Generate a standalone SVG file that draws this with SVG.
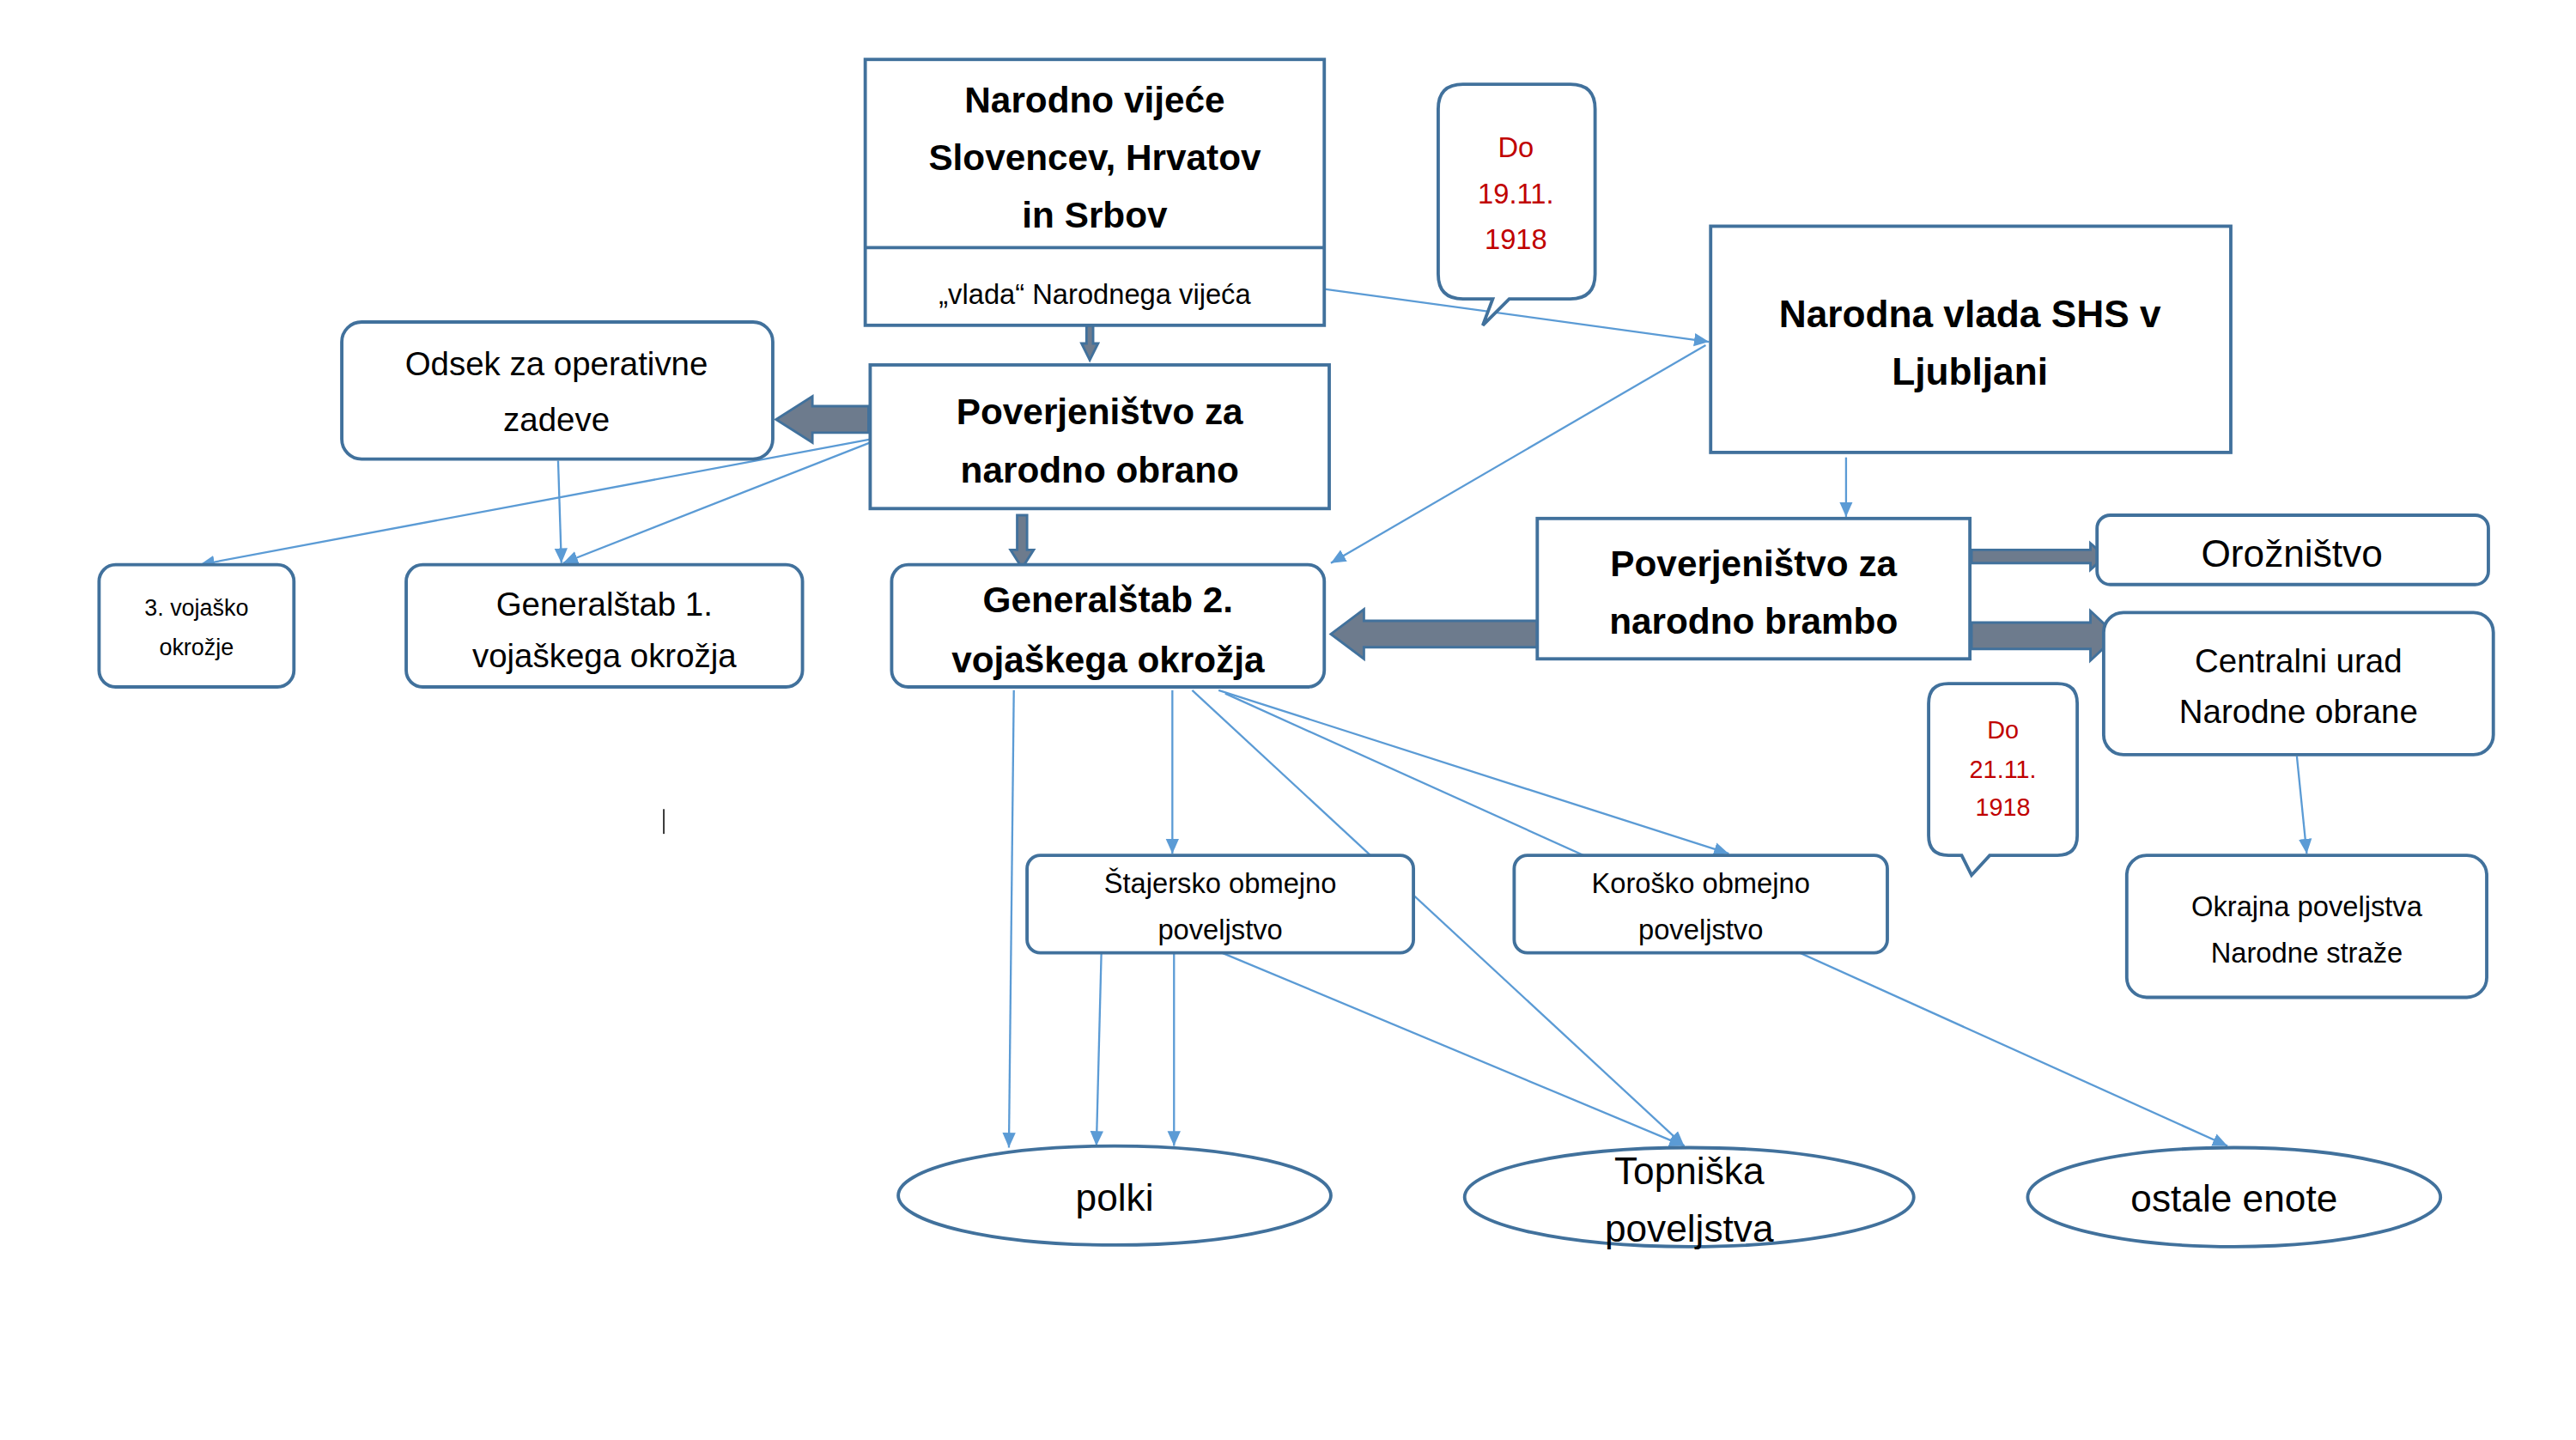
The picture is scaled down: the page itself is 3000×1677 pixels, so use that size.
<svg xmlns="http://www.w3.org/2000/svg" width="3000" height="1677" viewBox="0 0 3000 1677">
<style>
.box{fill:#fff;stroke:#41719c;stroke-width:2}
.t{font-family:"Liberation Sans",Arial,sans-serif;text-anchor:middle;fill:#000}
.b{font-weight:bold}
.red{fill:#c00000}
.c{stroke:#5b9bd5;stroke-width:1.2;fill:none;marker-end:url(#ah)}
.thick{fill:#6d7b8d;stroke:#41719c;stroke-width:1.5}
</style>
<defs>
<marker id="ah" markerWidth="10" markerHeight="10" refX="9" refY="5" orient="auto" markerUnits="userSpaceOnUse">
<path d="M0,1 L9,5 L0,9 Z" fill="#5b9bd5"/>
</marker>
</defs>
<rect width="3000" height="1677" fill="#fff"/>
<g transform="scale(1.923)">
<g id="connectors">
<path class="c" d="M802,175 L1035,207"/>
<path class="c" d="M1033,209 L806,341"/>
<path class="c" d="M527,266 L121,342"/>
<path class="c" d="M527,268 L341,341"/>
<path class="c" d="M338,279 L340,341"/>
<path class="c" d="M614,418 L611,695"/>
<path class="c" d="M710,418 L710,517"/>
<path class="c" d="M722,418 L1020,694"/>
<path class="c" d="M738,418 L1047,517"/>
<path class="c" d="M742,420 L1349,694"/>
<path class="c" d="M740,577 L1020,694"/>
<path class="c" d="M667,577 L664,694"/>
<path class="c" d="M711,577 L711,694"/>
<path class="c" d="M1391,458 L1397,517"/>
<path class="c" d="M1118,277 L1118,313"/>
<path d="M658,184 L662,184 L662,208 L665,208 L660,218 L655,208 L658,208 Z" class="thick"/>
<path d="M616,312 L622,312 L622,333 L626,333 L619,344 L612,333 L616,333 Z" class="thick"/>
<path d="M526,246 L492,246 L492,240 L470,254 L492,268 L492,262 L526,262 Z" class="thick"/>
<path d="M931,376 L826,376 L826,369 L806,384 L826,399 L826,392 L931,392 Z" class="thick"/>
<path d="M1194,333 L1266,333 L1266,329 L1275,337 L1266,345 L1266,341 L1194,341 Z" class="thick"/>
<path d="M1194,377 L1266,377 L1266,370 L1282,385 L1266,400 L1266,393 L1194,393 Z" class="thick"/>
<line x1="402" y1="490" x2="402" y2="505" stroke="#333" stroke-width="1"/>
</g>
<g id="narodno-vijece">
<rect class="box" x="524" y="36" width="278" height="161"/>
<line x1="524" y1="150" x2="802" y2="150" stroke="#41719c" stroke-width="2"/>
<text class="t b" font-size="22" x="663" y="68">Narodno vijeće</text>
<text class="t b" font-size="22" x="663" y="103">Slovencev, Hrvatov</text>
<text class="t b" font-size="22" x="663" y="138">in Srbov</text>
<text class="t" font-size="17" x="663" y="184">„vlada“ Narodnega vijeća</text>
</g>
<g id="callout1">
<path class="box" d="M886,51 L951,51 Q966,51 966,66 L966,166 Q966,181 951,181 L914,181 L898,197 L904,181 L886,181 Q871,181 871,166 L871,66 Q871,51 886,51 Z"/>
<text class="t red" font-size="17" x="918" y="95">Do</text>
<text class="t red" font-size="17" x="918" y="123">19.11.</text>
<text class="t red" font-size="17" x="918" y="151">1918</text>
</g>
<g id="narodna-vlada">
<rect class="box" x="1036" y="137" width="315" height="137"/>
<text class="t b" font-size="23" x="1193" y="198">Narodna vlada SHS v</text>
<text class="t b" font-size="23" x="1193" y="233">Ljubljani</text>
</g>
<g id="odsek">
<rect class="box" x="207" y="195" width="261" height="83" rx="12"/>
<text class="t" font-size="20" x="337" y="227">Odsek za operativne</text>
<text class="t" font-size="20" x="337" y="261">zadeve</text>
</g>
<g id="pov-obrano">
<rect class="box" x="527" y="221" width="278" height="87"/>
<text class="t b" font-size="22" x="666" y="257">Poverjeništvo za</text>
<text class="t b" font-size="22" x="666" y="292">narodno obrano</text>
</g>
<g id="vojasko3">
<rect class="box" x="60" y="342" width="118" height="74" rx="10"/>
<text class="t" font-size="14" x="119" y="373">3. vojaško</text>
<text class="t" font-size="14" x="119" y="397">okrožje</text>
</g>
<g id="gen1">
<rect class="box" x="246" y="342" width="240" height="74" rx="10"/>
<text class="t" font-size="20" x="366" y="373">Generalštab 1.</text>
<text class="t" font-size="20" x="366" y="404">vojaškega okrožja</text>
</g>
<g id="gen2">
<rect class="box" x="540" y="342" width="262" height="74" rx="10"/>
<text class="t b" font-size="22" x="671" y="371">Generalštab 2.</text>
<text class="t b" font-size="22" x="671" y="407">vojaškega okrožja</text>
</g>
<g id="pov-brambo">
<rect class="box" x="931" y="314" width="262" height="85"/>
<text class="t b" font-size="22" x="1062" y="349">Poverjeništvo za</text>
<text class="t b" font-size="22" x="1062" y="384">narodno brambo</text>
</g>
<g id="oroznistvo">
<rect class="box" x="1270" y="312" width="237" height="42" rx="8"/>
<text class="t" font-size="23" x="1388" y="343">Orožništvo</text>
</g>
<g id="centralni">
<rect class="box" x="1274" y="371" width="236" height="86" rx="12"/>
<text class="t" font-size="20" x="1392" y="407">Centralni urad</text>
<text class="t" font-size="20" x="1392" y="438">Narodne obrane</text>
</g>
<g id="callout2">
<path class="box" d="M1180,414 L1246,414 Q1258,414 1258,426 L1258,506 Q1258,518 1246,518 L1205,518 L1194,530 L1188,518 L1180,518 Q1168,518 1168,506 L1168,426 Q1168,414 1180,414 Z"/>
<text class="t red" font-size="15" x="1213" y="447">Do</text>
<text class="t red" font-size="15" x="1213" y="471">21.11.</text>
<text class="t red" font-size="15" x="1213" y="494">1918</text>
</g>
<g id="okrajna">
<rect class="box" x="1288" y="518" width="218" height="86" rx="12"/>
<text class="t" font-size="17" x="1397" y="555">Okrajna poveljstva</text>
<text class="t" font-size="17" x="1397" y="583">Narodne straže</text>
</g>
<g id="stajersko">
<rect class="box" x="622" y="518" width="234" height="59" rx="8"/>
<text class="t" font-size="17" x="739" y="541">Štajersko obmejno</text>
<text class="t" font-size="17" x="739" y="569">poveljstvo</text>
</g>
<g id="korosko">
<rect class="box" x="917" y="518" width="226" height="59" rx="8"/>
<text class="t" font-size="17" x="1030" y="541">Koroško obmejno</text>
<text class="t" font-size="17" x="1030" y="569">poveljstvo</text>
</g>
<g id="polki">
<ellipse class="box" cx="675" cy="724" rx="131" ry="30"/>
<text class="t" font-size="23" x="675" y="733">polki</text>
</g>
<g id="topniska">
<ellipse class="box" cx="1023" cy="725" rx="136" ry="30"/>
<text class="t" font-size="23" x="1023" y="717">Topniška</text>
<text class="t" font-size="23" x="1023" y="752">poveljstva</text>
</g>
<g id="ostale">
<ellipse class="box" cx="1353" cy="725" rx="125" ry="30"/>
<text class="t" font-size="23" x="1353" y="734">ostale enote</text>
</g>
</g>
</svg>
